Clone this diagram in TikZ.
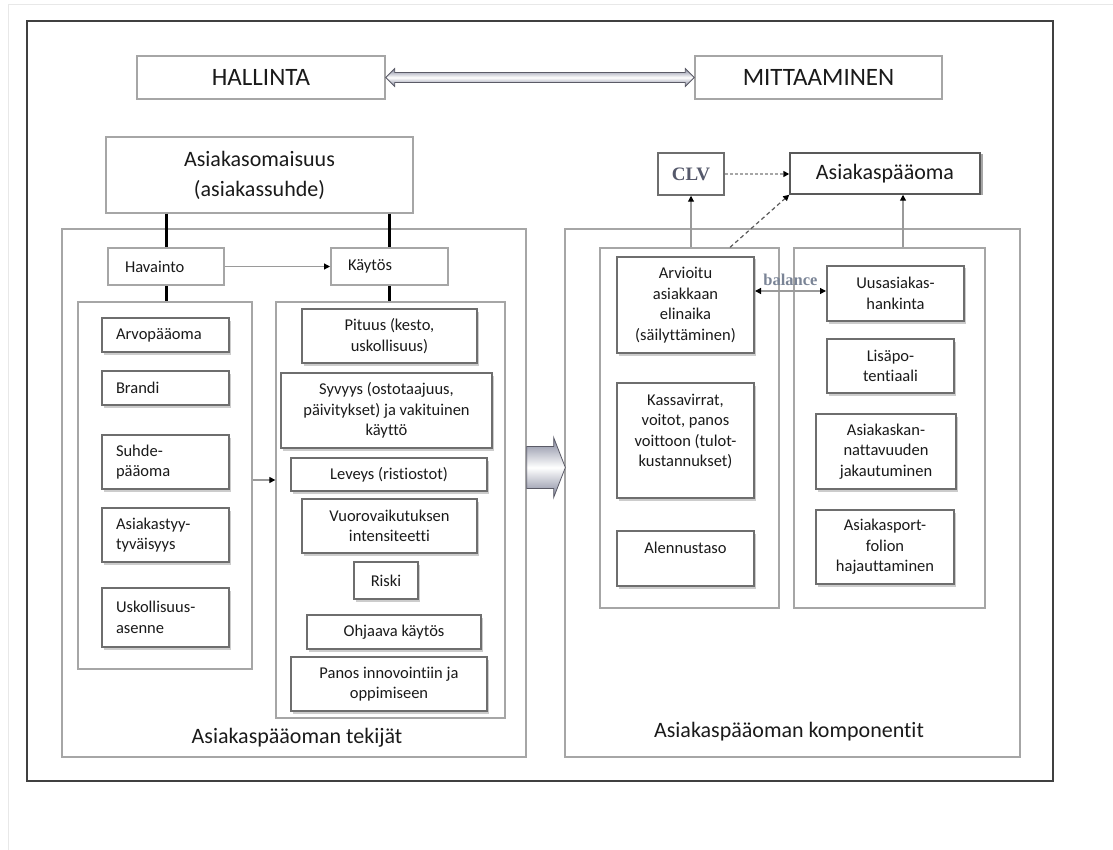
\documentclass[tikz,border=0pt]{standalone}
\usepackage{fontspec}
\setmainfont{Carlito}[Ligatures=NoCommon]
\newfontfamily\serifbold{Liberation Serif}
\usetikzlibrary{shadows,calc,arrows.meta}

\definecolor{txt}{HTML}{1A1A1A}
\definecolor{framecol}{HTML}{404040}
\definecolor{panelcol}{HTML}{A6A6A6}
\definecolor{itemcol}{HTML}{6E6E6E}
\definecolor{linkcol}{HTML}{9A9A9A}
\definecolor{arrowshade}{HTML}{80849A}
\definecolor{arrowedge}{HTML}{5A5A66}
\definecolor{clvcol}{HTML}{55596B}
\definecolor{balcol}{HTML}{7A8496}

\newcommand\titlefont{\fontsize{25}{30}\selectfont}
\newcommand\bigfont{\fontsize{22}{30}\selectfont}
\newcommand\itemfont{\fontsize{16.5}{20.5}\selectfont}

\begin{document}
\begin{tikzpicture}[x=1pt,y=-1pt,
  every node/.style={text=txt},
  panelbox/.style={draw=panelcol, line width=1.3pt, inner sep=0pt},
  titlebox/.style={draw=panelcol, line width=1.5pt, fill=white, inner sep=0pt, align=center, font=\titlefont},
  headbox/.style={draw=panelcol, line width=2pt, fill=white, align=left, inner xsep=17pt, inner ysep=0pt, font=\itemfont},
  itembox/.style={draw=itemcol, line width=2pt, fill=white, inner sep=0pt, align=center, font=\itemfont,
    drop shadow={shadow xshift=2pt, shadow yshift=-2.5pt, fill=black!20, opacity=1}},
  leftitem/.style={itembox, align=left, inner xsep=14pt, text width=99pt, minimum width=127pt},
  heavy/.style={line width=3pt, black},
  tip/.style={-{Triangle[length=6pt,width=6pt,color=black]}},
  link/.style={draw=linkcol, line width=1.2pt, tip},
  bilink/.style={draw=linkcol, line width=1.2pt, {Triangle[length=6pt,width=6pt,color=black]}-{Triangle[length=6pt,width=6pt,color=black]}},
  dashlink/.style={draw=black!65, line width=1.2pt, dash pattern=on 4pt off 3pt, tip},
  dotlink/.style={draw=black!35, line width=1.6pt, dash pattern=on 3pt off 2pt, tip},
  blockarrow/.style={draw=arrowedge, line width=0.8pt, top color=arrowshade, bottom color=arrowshade, middle color=white},
]
\useasboundingbox (0,0) rectangle (1113,850);

% faint page edge
\draw[line width=1pt, black!9] (8,850) -- (8,5) -- (1113,5);

% outer frame
\node[draw=framecol, line width=2.5pt, minimum width=1026pt, minimum height=760pt, inner sep=0pt] (outer) at (540,401) {};

% top row
\node[titlebox, minimum width=248pt, minimum height=43pt] (hallinta) at (261,77.5) {HALLINTA};
\node[titlebox, minimum width=247pt, minimum height=43pt] (mitt) at (818.5,77.5) {MITTAAMINEN};
\path[blockarrow] (hallinta.east) -- ++(9,-9) -- ++(0,4) -- ($(mitt.west)+(-9,-5)$) -- ++(0,-4)
  -- (mitt.west) -- ++(-9,9) -- ++(0,-4) -- ($(hallinta.east)+(9,5)$) -- ++(0,4) -- cycle;

% main panels
\node[panelbox, minimum width=464pt, minimum height=528pt] (leftpanel) at (294,493) {};
\node[panelbox, minimum width=455pt, minimum height=528pt] (rightpanel) at (792.5,493) {};
\node[font=\bigfont] (lab1) at (297,738) {Asiakaspääoman tekijät};
\node[font=\bigfont] (lab2) at (789,732) {Asiakaspääoman komponentit};

% left side: drivers
\node[draw=panelcol, line width=1.5pt, fill=white, inner sep=0pt, align=center, font=\bigfont,
  minimum width=307pt, minimum height=76pt] (omaisuus) at (259.5,175) {Asiakasomaisuus\\(asiakassuhde)};
\node[headbox, text width=82pt, minimum width=116pt, minimum height=37pt] (havainto) at (166,266.5) {Havainto};
\node[headbox, text width=83pt, minimum width=117pt, minimum height=37pt] (kaytos) at (389.5,266.5) {Käytös};

\node[panelbox, minimum width=174pt, minimum height=367pt] (linner) at (165,485.5) {};
\node[panelbox, minimum width=229pt, minimum height=416pt] (rinner) at (390.5,510) {};

\draw[heavy] (havainto.north |- omaisuus.south) -- (havainto.north);
\draw[heavy] (kaytos.north |- omaisuus.south) -- (kaytos.north);
\draw[heavy] (havainto.south) -- (havainto.south |- linner.north);
\draw[heavy] (kaytos.south) -- (kaytos.south |- rinner.north);
\draw[link] (havainto.east) -- (kaytos.west);
\coordinate (l1) at ([yshift=5.5pt]linner.east);
\draw[link] (l1) -- (rinner.west |- l1);

\node[leftitem, minimum height=34pt] (arvo) at (165.5,335) {Arvopääoma};
\node[leftitem, minimum height=34pt] (brandi) at (165.5,388) {Brandi};
\node[leftitem, minimum height=54pt] (suhde) at (165.5,462) {Suhde-\\pääoma};
\node[leftitem, minimum height=54pt] (tyyt) at (165.5,535) {Asiakastyy-\\tyväisyys};
\node[leftitem, minimum height=59pt] (uskol) at (165.5,617.5) {Uskollisuus-\\asenne};

\node[itembox, minimum width=175pt, minimum height=54pt] (pituus) at (389.5,336) {Pituus (kesto,\\uskollisuus)};
\node[itembox, minimum width=211pt, minimum height=75pt] (syvyys) at (386.5,410.5) {Syvyys (ostotaajuus,\\päivitykset) ja vakituinen\\käyttö};
\node[itembox, minimum width=196pt, minimum height=33pt] (leveys) at (389,474.5) {Leveys (ristiostot)};
\node[itembox, minimum width=175pt, minimum height=54pt] (vuoro) at (389.5,526) {Vuorovaikutuksen\\intensiteetti};
\node[itembox, minimum width=64pt, minimum height=37pt] (riski) at (386,580.5) {Riski};
\node[itembox, minimum width=174pt, minimum height=34pt] (ohjaava) at (394,632) {Ohjaava käytös};
\node[itembox, minimum width=196pt, minimum height=54pt] (panos) at (389,684) {Panos innovointiin ja\\oppimiseen};

% block arrow between the two halves
\coordinate (m0) at ([yshift=25.5pt]leftpanel.east);
\path[blockarrow] ($(m0)+(0,-21)$) -- ++(27,0) -- ++(0,-9) -- ($(rightpanel.west |- m0)+(1,0)$)
  -- ($(m0)+(27,30)$) -- ++(0,-9) -- ($(m0)+(0,21)$) -- cycle;

% right side: components
\node[panelbox, minimum width=179pt, minimum height=360pt] (csub1) at (689.5,428) {};
\node[panelbox, minimum width=191pt, minimum height=360pt] (csub2) at (889.5,428) {};

\node[draw=itemcol, line width=1.5pt, fill=white, inner sep=0pt, minimum width=66pt, minimum height=42pt,
  font=\serifbold\bfseries\fontsize{19}{22}\selectfont, text=clvcol] (clv) at (691,174) {CLV};
\node[draw=black!65, line width=1.5pt, fill=white, inner sep=0pt, minimum width=190pt, minimum height=41pt,
  font=\bigfont, drop shadow={shadow xshift=2.5pt, shadow yshift=-1.5pt, fill=black!35, opacity=1}] (apaaoma) at (885,173.5) {Asiakaspääoma};

\draw[dotlink] (clv.east) -- (apaaoma.west |- clv.east);
\draw[link] (clv.south |- csub1.north) -- (clv.south);
\coordinate (a2) at ([xshift=18pt]apaaoma.south);
\draw[link] (a2 |- csub2.north) -- (a2);
\coordinate (d1) at ([xshift=40.5pt]csub1.north);
\draw[dashlink] (d1) -- (apaaoma.south west);

\node[itembox, minimum width=137pt, minimum height=96pt] (arvioitu) at (685.5,305) {Arvioitu\\asiakkaan\\elinaika\\(säilyttäminen)};
\node[itembox, minimum width=137pt, minimum height=115pt] (kassa) at (685.5,440.5) {Kassavirrat,\\voitot, panos\\voittoon (tulot-\\kustannukset)\\~};
\node[itembox, minimum width=137pt, minimum height=55pt] (alennus) at (685.5,558.5) {Alennustaso\\~};

\node[itembox, minimum width=137pt, minimum height=55pt] (uusi) at (895.5,293.5) {Uusasiakas-\\hankinta};
\node[itembox, minimum width=127pt, minimum height=54pt] (lisa) at (890.5,366) {Lisäpo-\\tentiaali};
\node[itembox, minimum width=140pt, minimum height=75pt] (kannat) at (886,451.5) {Asiakaskan-\\nattavuuden\\jakautuminen};
\node[itembox, minimum width=138pt, minimum height=74pt] (portf) at (885,547) {Asiakasport-\\folion\\hajauttaminen};

\coordinate (balR) at ([yshift=2.5pt]uusi.west);
\draw[bilink] (arvioitu.east |- balR) -- node[midway, yshift=11pt, inner sep=0pt,
  font=\serifbold\bfseries\fontsize{16.5}{18}\selectfont, text=balcol] (bal) {balance} (balR);

\end{tikzpicture}
\end{document}
